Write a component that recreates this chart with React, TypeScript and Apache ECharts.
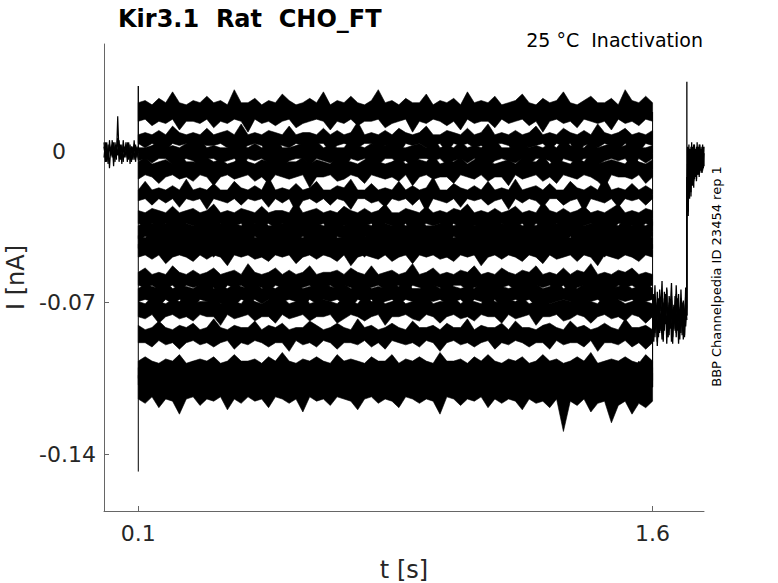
import React, { useEffect, useRef } from "react";
import * as echarts from "echarts";

// Axis ranges and ticks
const xRange = [0, 1.75];
const yRange = [-0.1662, 0.0494];
const xTickValues = [0.1, 1.6];
const yTickValues = [0, -0.07, -0.14];

// Protocol timing (s)
const pulseStart = 0.1;
const pulseEnd = 1.6;
const stepEnd = 1.7;
const traceEnd = 1.75;

// Levels in pA
const holdingLevel = 0;
const stepLevel = -76;
const onsetSpike = [30, -148];
const offsetSpike = 32;

// Mean current of each sweep during the test pulse (pA)
const sweepCenters = [18, 5.5, -1, -8.5, -20, -31, -37, -42.5, -45.5, -59.5, -66, -73, -85, -100.5, -104.5, -109];
// Half-width of the dense core of each sweep's noise band (pA)
const sweepCore = [1.3, 0, 0.5, 0.5, 0, 0.5, 0.5, 0.5, 0.5, 0.5, 0.5, 0.5, 0.5, 0.5, 0.5, 0.5];

// Excursion of the upper edge beyond the core (pA), t = 0.1 .. 1.6 s
const sweepUpper = [
  [3,4,2,5,3,8,3,2,4,3,6,3,4,2,9,3,3,5,2,4,3,7,4,2,3,5,3,8,2,4,3,6,3,2,4,9,3,4,2,5,3,3,7,2,4,3,5,2,8,3,4,3,6,2,3,4,7,3,2,5,3,4,8,3,2,4,6,3,3,5,2,9,4,3,6,3],
  [2,3,2,4,2,6,3,2,3,2,5,2,3,4,2,7,2,3,2,4,3,2,6,2,3,3,2,5,2,4,2,3,8,2,3,2,4,2,5,3,2,3,6,2,2,4,3,2,5,2,3,7,2,3,2,4,2,3,6,2,3,2,5,3,2,4,2,7,3,2,3,5,2,3,2,4],
  [2,2,3,5,2,3,2,4,2,6,2,3,2,2,5,3,2,4,2,3,7,2,2,3,4,2,5,2,3,2,2,6,3,2,4,2,3,5,2,2,3,4,2,7,2,3,2,5,2,3,2,4,6,2,2,3,5,2,3,2,4,2,6,3,2,2,5,2,3,4,2,3,7,2,2,3],
  [3,5,2,3,4,2,7,3,3,2,5,3,4,2,3,6,3,2,4,3,8,2,3,3,5,2,4,3,2,6,3,3,2,4,7,3,2,3,5,2,3,4,3,6,2,3,3,5,2,4,8,3,2,3,4,2,5,3,3,6,2,4,3,2,5,3,7,2,3,4,3,2,6,3,2,4],
  [2,6,2,3,2,4,2,7,2,3,2,5,2,2,6,3,2,4,2,8,2,3,2,5,2,3,6,2,2,4,3,7,2,2,5,2,3,2,6,2,4,2,3,8,2,2,5,3,2,4,2,6,2,3,2,7,2,3,4,2,5,2,2,6,3,2,4,2,8,2,3,2,5,2,4,2],
  [3,2,4,3,2,5,2,3,4,2,3,6,2,3,2,4,3,2,5,2,3,3,2,7,2,3,4,2,3,2,5,3,2,4,2,3,6,2,2,4,3,2,5,2,3,2,4,3,6,2,3,2,4,2,3,5,2,3,2,7,3,2,4,2,3,5,2,3,2,4,6,2,3,2,4,3],
  [2,4,3,2,3,5,2,3,2,4,2,6,3,2,3,2,4,3,5,2,2,3,4,2,6,2,3,2,3,5,2,4,2,3,2,6,3,2,4,2,3,5,2,2,3,4,2,3,6,2,3,2,5,3,2,4,2,3,2,5,2,3,4,2,6,2,3,2,4,3,2,5,2,3,2,4],
  [3,2,5,2,3,4,2,3,2,6,3,2,4,2,3,2,5,2,3,4,2,6,2,3,2,4,3,2,5,2,2,3,6,2,4,2,3,2,5,3,2,4,2,3,6,2,2,3,4,2,5,3,2,3,2,4,2,6,3,2,3,5,2,2,4,3,2,5,2,3,2,6,3,2,4,2],
  [2,3,5,2,3,2,4,3,2,6,2,3,4,2,2,5,3,2,3,4,2,6,3,2,2,4,3,5,2,3,2,4,2,6,3,2,3,5,2,2,4,3,2,6,2,3,2,4,5,2,3,2,4,3,2,6,2,3,5,2,3,2,4,2,3,6,2,2,4,3,5,2,3,2,4,2],
  [3,5,2,3,2,6,3,2,4,2,3,5,2,3,4,2,7,3,2,3,5,2,4,2,3,6,2,3,3,4,2,5,3,2,6,2,3,4,2,3,7,2,3,5,2,3,2,4,3,6,2,3,2,5,3,2,4,3,6,2,3,2,5,2,4,3,7,2,3,2,4,3,5,2,3,2],
  [2,4,3,2,5,2,3,3,2,4,6,2,3,2,4,3,2,5,2,3,2,4,3,6,2,3,2,5,3,2,4,2,3,6,2,3,2,4,3,5,2,2,3,4,2,6,3,2,3,2,5,2,4,3,2,3,6,2,4,2,3,5,2,3,2,4,3,2,6,2,3,4,2,3,5,2],
  [3,2,5,3,2,4,3,6,2,3,3,5,2,4,3,2,6,3,2,4,3,5,2,3,7,2,3,4,3,2,5,3,2,6,3,4,2,3,5,2,3,4,6,2,3,3,5,2,4,3,2,7,3,2,4,3,5,2,3,6,2,3,4,3,2,5,3,2,6,3,4,2,3,5,3,2],
  [4,2,3,6,3,2,4,3,5,2,3,7,3,2,4,3,3,6,2,4,3,5,2,3,3,6,4,2,3,5,3,2,7,3,4,2,3,5,3,2,6,3,3,4,2,5,3,3,7,2,4,3,3,5,2,6,3,3,2,4,5,3,2,6,3,4,2,3,5,3,2,7,3,3,4,2],
  [3,5,3,2,4,3,6,2,3,4,3,5,2,3,6,3,3,4,2,5,3,7,3,2,4,3,5,3,2,6,3,4,3,2,5,3,3,6,2,4,3,5,3,2,7,3,3,4,2,5,3,6,3,2,4,3,5,2,3,6,3,4,2,3,5,3,7,2,3,4,3,5,3,2,6,3],
  [4,3,6,3,4,2,5,3,7,3,4,2,5,3,3,6,4,2,5,3,4,7,3,3,5,2,4,6,3,3,4,5,2,3,7,4,3,3,5,2,6,3,4,3,5,2,4,7,3,3,4,5,2,6,3,4,3,5,3,2,7,4,3,3,5,2,4,6,3,3,5,4,2,7,3,4],
  [5,4,6,3,5,4,7,4,3,5,6,4,3,7,4,5,3,6,4,4,5,7,3,4,6,4,5,3,7,4,4,6,3,5,4,7,4,3,5,6,4,4,7,3,5,4,6,4,3,5,7,4,4,6,3,5,4,7,4,3,5,6,4,4,7,3,5,4,6,4,3,5,7,4,4,6],
];

// Excursion of the lower edge beyond the core (pA), t = 0.1 .. 1.6 s
const sweepLower = [
  [3,2,5,3,4,2,7,3,3,4,2,6,3,4,2,3,8,2,4,3,5,3,2,6,4,3,2,3,7,3,4,2,5,3,3,2,6,4,3,2,8,3,4,2,3,5,3,7,2,4,3,3,6,2,4,3,2,5,3,8,3,2,4,3,6,2,3,4,3,7,2,4,3,5,2,3],
  [2,4,2,3,5,2,3,2,6,2,3,3,2,4,2,5,3,2,3,7,2,3,4,2,3,5,2,2,6,3,2,3,4,2,2,5,3,2,7,2,3,2,4,3,2,6,2,3,2,4,3,5,2,2,3,6,2,4,3,2,5,2,3,2,7,3,2,4,2,3,5,2,3,6,2,3],
  [3,2,4,2,2,5,3,2,3,6,2,2,4,3,2,5,2,3,2,4,2,6,3,2,2,5,2,3,4,2,7,2,3,2,3,5,2,2,4,3,6,2,2,3,2,5,3,2,4,2,2,6,3,2,3,4,2,5,2,2,3,7,2,3,4,2,2,5,3,2,3,2,6,2,4,2],
  [4,2,3,6,3,2,4,3,5,2,3,7,3,2,4,3,2,5,3,6,2,3,4,3,2,8,3,3,2,5,4,2,3,6,2,3,4,3,5,2,7,3,2,4,3,3,6,2,3,4,2,5,3,3,7,2,4,3,2,5,3,6,2,3,4,2,3,5,8,2,3,3,4,2,6,3],
  [3,2,5,2,4,2,6,2,3,2,7,2,3,4,2,5,2,3,2,6,2,4,2,8,3,2,4,2,5,2,3,7,2,2,4,3,6,2,3,2,5,2,8,2,3,4,2,6,2,3,2,5,3,2,7,2,4,2,3,6,2,2,5,3,2,8,2,3,4,2,6,2,3,2,5,2],
  [2,3,2,4,2,3,5,2,3,2,4,3,2,5,3,2,6,2,3,2,4,2,3,5,2,4,3,2,6,2,3,2,4,3,2,5,2,3,4,2,6,3,2,3,2,5,2,4,2,3,3,6,2,2,4,3,2,5,2,3,4,2,3,6,2,3,2,4,3,5,2,2,3,4,2,3],
  [3,2,2,5,3,2,4,2,3,5,2,3,2,4,2,3,6,2,3,2,4,2,5,3,2,3,2,4,6,2,3,2,5,2,3,4,2,3,2,5,3,2,4,2,3,6,2,3,2,4,3,2,5,2,3,2,4,6,2,3,2,3,5,2,4,2,3,2,5,2,3,4,2,6,3,2],
  [2,4,2,3,2,5,3,2,4,2,3,6,2,3,2,4,2,5,3,2,3,4,2,6,2,3,2,5,2,3,4,2,3,6,2,2,4,3,2,5,2,3,2,4,3,6,2,3,2,5,2,3,4,2,3,2,6,2,4,3,2,5,2,3,2,4,3,2,6,2,3,4,2,5,3,2],
  [3,2,4,2,6,3,2,3,5,2,4,2,3,7,2,3,2,4,3,5,2,3,2,6,3,2,4,2,3,5,2,7,3,2,3,4,2,5,3,2,6,2,3,2,4,3,5,2,3,2,7,3,2,4,2,3,5,2,3,6,2,4,3,2,5,2,3,7,2,3,4,2,3,5,2,3],
  [2,3,2,4,3,2,5,2,3,2,4,3,6,2,3,2,4,2,3,5,2,3,4,2,3,2,6,3,2,4,2,3,5,2,3,2,4,3,2,6,2,3,4,2,3,5,2,2,4,3,2,6,2,3,2,4,3,5,2,3,2,4,2,6,3,2,3,4,2,5,2,3,2,4,3,2],
  [3,2,3,5,2,4,2,3,6,2,3,2,4,3,5,2,3,2,4,2,6,3,2,3,5,2,4,2,3,2,4,6,2,3,2,5,3,2,4,2,3,6,2,3,2,4,3,2,5,2,3,4,2,6,3,2,3,2,5,2,4,3,2,3,6,2,3,2,4,5,2,3,2,4,3,2],
  [3,4,2,6,3,2,4,3,5,2,3,3,7,2,4,3,2,5,3,3,6,2,4,3,2,5,3,3,2,6,4,2,3,5,3,2,7,3,3,2,4,5,2,3,6,3,2,4,3,5,2,3,3,6,2,4,3,2,7,3,3,2,5,4,2,3,6,3,2,4,3,5,2,3,6,3],
  [3,3,5,2,4,3,6,3,2,4,3,5,3,2,6,3,4,2,3,5,3,3,7,2,4,3,5,2,3,6,3,3,4,2,5,3,6,2,3,4,3,5,2,3,7,3,2,4,3,5,3,2,6,3,4,2,3,5,3,3,6,2,4,3,3,5,2,7,3,3,4,2,5,3,6,3],
  [4,3,6,3,2,5,3,4,3,7,2,3,5,3,4,2,6,3,3,5,2,4,3,7,3,2,5,3,4,3,6,2,3,5,3,4,2,7,3,3,5,2,4,3,6,3,2,5,3,4,3,7,2,3,5,3,4,2,6,3,3,5,2,4,3,7,3,2,5,3,4,3,6,2,3,5],
  [3,5,4,3,6,3,4,5,3,7,4,3,5,3,4,6,3,3,5,4,7,3,3,4,5,3,6,4,3,5,3,4,7,3,3,5,4,3,6,3,4,5,3,7,3,4,5,3,3,6,4,3,5,3,7,4,3,5,3,4,6,3,4,5,3,7,3,4,5,3,3,6,4,3,5,4],
  [5,7,4,9,5,6,12,5,4,8,5,6,4,10,5,7,4,6,5,9,4,5,7,5,11,4,6,5,8,4,5,6,10,5,4,7,5,6,9,4,5,7,5,6,12,4,5,8,5,6,4,9,5,7,5,6,10,5,7,6,9,5,20,6,8,5,11,7,6,16,8,6,12,7,9,6],
];

// Holding current before the pulse, t = 0 .. 0.1 s (pA)
const preTraceA = [2,-3,4,-4,3,-2,5,-3,2,-4,16,-2,3,-4,2,-3,4,-2,3,-3,2,-4,3,-2,2,-1];
const preTraceB = [-3,4,-5,3,-8,2,-3,4,-5,3,-2,5,-4,3,-5,2,-3,4,-4,3,-5,2,-4,3,-3,2];
const preTraceC = [4,-5,1,-6,5,-2,3,-7,4,-1,6,-5,2,-6,5,-1,3,-5,4,-6,2,-3,5,-5,1,-4];

// Current during the common step, t = 1.6 .. 1.7 s (pA)
const postTraceA = [-66,-80,-62,-78,-70,-84,-64,-74,-60,-82,-68,-78,-63,-86,-67,-73,-61,-80,-71,-83,-62,-77,-66,-84,-64,-79,-69,-85,-63,-76];
const postTraceB = [-82,-70,-86,-74,-88,-68,-84,-76,-87,-70,-83,-66,-89,-72,-85,-69,-88,-75,-82,-67,-86,-71,-89,-73,-84,-70,-87,-74,-81,-72];
const postTraceC = [-74,-88,-70,-80,-65,-86,-72,-82,-68,-87,-73,-79,-64,-84,-71,-81,-69,-86,-74,-78,-66,-83,-72,-80,-68,-85,-70,-79,-67,-76];
const postTraceD = [-78,-66,-84,-71,-90,-75,-69,-83,-73,-88,-65,-80,-76,-86,-70,-82,-67,-89,-72,-79,-84,-68,-77,-87,-71,-81,-74,-86,-69,-78];

// Return to holding, t = 1.7 .. 1.75 s (pA)
const tailTraceA = [-34,2,-28,3,-22,1,-19,4,-16,2,-14,3,-12,1,-13,4,-10,2,-11,3,-9,1,-10,3,-8,2];
const tailTraceB = [-26,-6,-30,-2,-18,-4,-21,0,-15,-3,-17,1,-12,-2,-14,0,-11,-1,-12,2,-9,-2,-10,1,-8,-1];
const tailTraceC = [-12,-24,0,-20,-3,-16,2,-15,-1,-12,3,-13,-2,-10,2,-11,0,-9,3,-10,-1,-8,2,-9,0,-7];

const FONT = "DejaVu Sans";
const TEXT = "#262626";

const tAt = (i: number, n: number, a: number, b: number) => a + ((b - a) * i) / (n - 1);
const nA = (pA: number) => pA / 1000;
const toPairs = (vals: number[], a: number, b: number) =>
  vals.map((v, i) => [tAt(i, vals.length, a, b), nA(v)]);

const lineSeries = (data: number[][], width = 1) => ({
  type: "line",
  data,
  showSymbol: false,
  symbol: "none",
  silent: true,
  clip: true,
  lineStyle: { color: "#000", width },
});

export default function App() {
  const ref = useRef<HTMLDivElement>(null);

  useEffect(() => {
    document.body.style.margin = "0";
    if (!ref.current) return;
    const chart = echarts.init(ref.current, undefined, { renderer: "svg" });

    const series: any[] = [];
    series.push(lineSeries(toPairs(preTraceA, 0, pulseStart), 1.2));
    series.push(lineSeries(toPairs(preTraceB, 0, pulseStart), 1.2));
    series.push(lineSeries(toPairs(preTraceC, 0, pulseStart), 1.2));

    // Noise band of each sweep during the test pulse
    series.push({
      type: "custom",
      silent: true,
      clip: true,
      data: sweepCenters.map((c) => [pulseStart, nA(c)]),
      renderItem: (params: any, api: any) => {
        const k = params.dataIndex;
        const c = sweepCenters[k];
        const core = sweepCore[k];
        const up = sweepUpper[k];
        const lo = sweepLower[k];
        const pts: number[][] = [];
        up.forEach((d, i) => pts.push(api.coord([tAt(i, up.length, pulseStart, pulseEnd), nA(c + core + d)])));
        for (let i = lo.length - 1; i >= 0; i--) {
          pts.push(api.coord([tAt(i, lo.length, pulseStart, pulseEnd), nA(c - core - lo[i])]));
        }
        return {
          type: "polygon",
          shape: { points: pts },
          style: { fill: "#000", stroke: "#000", lineWidth: 0.6 },
        };
      },
    });

    series.push(lineSeries([[pulseStart, nA(holdingLevel)], [pulseStart, nA(onsetSpike[0])], [pulseStart, nA(onsetSpike[1])]]));
    series.push(lineSeries([...sweepCenters.map((c) => [pulseEnd, nA(c)]), [pulseEnd, nA(stepLevel)]]));
    series.push(
      lineSeries(
        [...toPairs(postTraceA, pulseEnd, stepEnd), [stepEnd, nA(offsetSpike)], ...toPairs(tailTraceA, stepEnd, traceEnd)],
        1.3
      )
    );
    series.push(lineSeries([...toPairs(postTraceB, pulseEnd, stepEnd), ...toPairs(tailTraceB, stepEnd, traceEnd)], 1.3));
    series.push(lineSeries([...toPairs(postTraceC, pulseEnd, stepEnd), ...toPairs(tailTraceC, stepEnd, traceEnd)], 1.3));
    series.push(lineSeries(toPairs(postTraceD, pulseEnd, stepEnd), 1.3));

    chart.setOption({
      animation: false,
      textStyle: { fontFamily: FONT },
      title: [
        {
          text: "Kir3.1  Rat  CHO_FT",
          left: 118,
          top: 7,
          padding: 0,
          textStyle: { fontFamily: FONT, fontSize: 24, fontWeight: "bold", color: "#000" },
        },
        {
          text: "25 °C  Inactivation",
          right: 75,
          top: 30,
          padding: 0,
          textStyle: { fontFamily: FONT, fontSize: 19, fontWeight: "normal", color: "#000" },
        },
      ],
      grid: { left: 104, right: 74, top: 44, bottom: 72, containLabel: false, outerBoundsMode: "none" },
      xAxis: {
        type: "value",
        min: xRange[0],
        max: xRange[1],
        name: "t [s]",
        nameLocation: "middle",
        nameGap: 47,
        nameTextStyle: { fontFamily: FONT, fontSize: 24, color: TEXT },
        axisLine: { show: true, onZero: false, lineStyle: { color: "#666", width: 1 } },
        axisTick: { show: true, inside: true, length: 5, customValues: xTickValues, lineStyle: { color: "#666" } },
        axisLabel: {
          customValues: xTickValues,
          margin: 11,
          fontFamily: FONT,
          fontSize: 22,
          color: TEXT,
          formatter: (v: number) => String(v),
        },
        splitLine: { show: false },
      },
      yAxis: {
        type: "value",
        min: yRange[0],
        max: yRange[1],
        name: "I [nA]",
        nameLocation: "middle",
        nameGap: 75,
        nameRotate: 90,
        nameTextStyle: { fontFamily: FONT, fontSize: 24, color: TEXT },
        axisLine: { show: true, onZero: false, lineStyle: { color: "#666", width: 1 } },
        axisTick: { show: true, inside: true, length: 5, customValues: yTickValues, lineStyle: { color: "#666" } },
        axisLabel: {
          customValues: yTickValues,
          margin: 8,
          fontFamily: FONT,
          fontSize: 22,
          color: TEXT,
          formatter: (v: number) => (v === 0 ? "{z|0}" : "{n|" + String(v) + "}"),
          rich: {
            z: { fontFamily: FONT, fontSize: 22, color: TEXT, padding: [0, 30, 0, 0] },
            n: { fontFamily: FONT, fontSize: 22, color: TEXT },
          },
        },
        splitLine: { show: false },
      },
      graphic: [
        {
          type: "text",
          x: 716.5,
          y: 276.5,
          rotation: Math.PI / 2,
          style: {
            text: "BBP Channelpedia ID 23454 rep 1",
            fontFamily: FONT,
            fontSize: 13,
            fill: "#000",
            textAlign: "center",
            textVerticalAlign: "middle",
          },
        },
      ],
      series,
    });

    return () => chart.dispose();
  }, []);

  return <div ref={ref} style={{ width: 778, height: 583 }} />;
}
